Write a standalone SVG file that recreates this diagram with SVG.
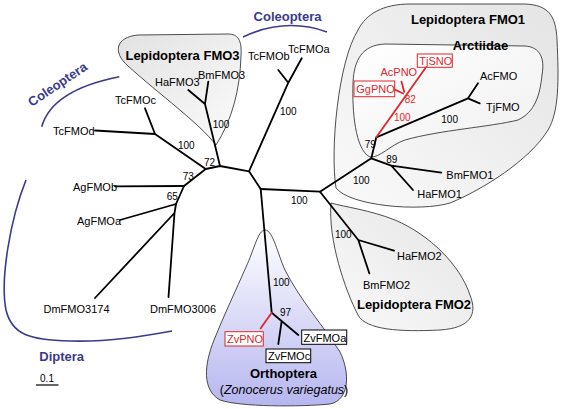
<svg xmlns="http://www.w3.org/2000/svg" width="563" height="409" viewBox="0 0 563 409">
<defs>
<linearGradient id="gGray" x1="0" y1="0" x2="1" y2="1">
<stop offset="0" stop-color="#e2e2e2"/><stop offset="1" stop-color="#fbfbfb"/>
</linearGradient>
<linearGradient id="gGray2" x1="0" y1="1" x2="1" y2="0">
<stop offset="0" stop-color="#fafafa"/><stop offset="1" stop-color="#e4e4e4"/>
</linearGradient>
<linearGradient id="gInner" x1="0" y1="0" x2="1" y2="1">
<stop offset="0" stop-color="#ffffff"/><stop offset="1" stop-color="#f0f0f0"/>
</linearGradient>
<linearGradient id="gBlue" x1="0" y1="0" x2="0" y2="1">
<stop offset="0" stop-color="#ffffff"/><stop offset="1" stop-color="#b6b6f0"/>
</linearGradient>
<style>
.hull{stroke:#222;stroke-width:0.8}
.br{stroke:#000;stroke-width:1.8;fill:none;stroke-linecap:round;stroke-linejoin:round}
.rb{stroke:#e0262b;stroke-width:1.8;fill:none;stroke-linecap:round}
.arc{stroke:#3a3a8e;stroke-width:1.6;fill:none}
text{font-family:"Liberation Sans",Arial,sans-serif}
.lf{font-size:11px;fill:#000}
.rl{font-size:11px;fill:#e0262b}
.bs{font-size:10px;fill:#000}
.bsr{font-size:10px;fill:#e0262b}
.cl{font-size:13px;font-weight:bold;fill:#000;text-anchor:middle}
.tx{font-size:13px;font-weight:bold;fill:#3a3a8e;text-anchor:middle}
.rbox{fill:#fff;stroke:#e0262b;stroke-width:1}
.kbox{fill:#fff;stroke:#000;stroke-width:1}
</style>
</defs>

<g id="clade-lepidoptera-fmo1">
<path class="hull" fill="url(#gGray2)" d="M336,188 C330,150 338,62 358,30 C366,14 383,4 410,4 L525,4 C548,5 556,15 557,40 C559,80 559,112 548,130 C530,160 482,190 450,203 C420,212 350,206 336,188 Z"/>
<text class="cl" x="468" y="24">Lepidoptera FMO1</text>
</g>
<g id="clade-arctiidae">
<path class="hull" fill="url(#gInner)" d="M370,157 C355,150 352,110 353,83 C354,60 362,45 385,44 L525,46 C540,47 545,58 542,75 C540,95 535,112 518,120 C490,127 440,130 405,140 C390,145 380,158 370,157 Z"/>
<text class="cl" x="480.5" y="50">Arctiidae</text>
</g>
<g id="clade-lepidoptera-fmo3">
<path class="hull" fill="url(#gGray)" d="M216,145 C198,122 160,95 128,66 C112,52 116,37 138,35 L228,34 C238,34 242,40 241,56 C240,90 232,120 216,145 Z"/>
<text class="cl" x="182.5" y="60">Lepidoptera FMO3</text>
</g>
<g id="clade-lepidoptera-fmo2">
<path class="hull" fill="url(#gGray2)" d="M331,203 C328,240 345,290 358,315 C366,330 400,332 440,330 C470,328 478,315 470,295 C460,265 430,235 395,220 C370,210 345,207 331,203 Z"/>
<text class="cl" x="414" y="309">Lepidoptera FMO2</text>
</g>
<g id="clade-orthoptera">
<path class="hull" fill="url(#gBlue)" d="M265,230 C258,230 254,250 246,267 C236,290 224,315 214,340 C204,365 202,390 220,400 C240,407 300,407 330,404 C350,400 350,372 340,352 C325,328 300,300 285,270 C278,255 273,230 265,230 Z"/>
<text class="cl" x="283.5" y="378">Orthoptera</text>
<text x="284" y="394" text-anchor="middle" font-size="12.5px" fill="#000">(<tspan font-style="italic">Zonocerus variegatus</tspan>)</text>
</g>

<g id="connectors">
<path class="br" d="M205.7,169 L220,166 L249,171.3 L260.7,189 M205.7,169 L184,186 L176,204"/>
<path class="br" d="M220,166 L205,104 M205,104 L188.3,90 M205,104 L208.3,81.7"/>
<path class="br" d="M205.7,169 L155,134 M155,134 L145,108.3 M155,134 L95,130.5"/>
<path class="br" d="M184,186 L115,186.3"/>
<path class="br" d="M176,204 L120,220 M176,204 L174.5,213 M174.5,213 L95,298 M174.5,213 L168.5,297"/>
<path class="br" d="M249,171.3 L288.3,82.7 M288.3,82.7 L278.3,70 M288.3,82.7 L301.7,58.3"/>
<path class="br" d="M260.7,189 L320,191.7 L371.3,158.3 L376.3,137.3 M376.3,137.3 L468,98.3 M468,98.3 L478,83.3 M468,98.3 L479.7,103.3"/>
<path class="br" d="M371.3,158.3 L391.3,165.7 M391.3,165.7 L441.3,172.7 M391.3,165.7 L413,190"/>
<path class="br" d="M320,191.7 L358.3,240 M358.3,240 L394,250.7 M358.3,240 L369.3,273.3"/>
<path class="br" d="M260.7,189 L271.7,312.7 L298.3,335 M281.7,321 L278.3,344"/>
<path class="rb" d="M376.3,137.3 L426,67.3 M403,93.5 L394.7,89.5 M404.2,91.8 L401.5,81.7 M271.7,312.7 L260.7,328.3"/>
<path class="arc" d="M243,37 Q285,17 327,32"/>
<path class="arc" d="M41.7,126.7 Q52,90 119.3,76.7"/>
<path class="arc" d="M26,180 C10,220 0,280 6,310 C12,335 30,340 70,341 C110,342 145,336 172,331"/>
<path stroke="#000" stroke-width="1.2" d="M36,385 L58.5,385"/>
</g>

<g id="leaf-TcFMOd"><text class="lf" x="53" y="134.5">TcFMOd</text></g>
<g id="leaf-TcFMOc"><text class="lf" x="115" y="104">TcFMOc</text></g>
<g id="leaf-HaFMO3"><text class="lf" x="155" y="85.5">HaFMO3</text></g>
<g id="leaf-BmFMO3"><text class="lf" x="198" y="79">BmFMO3</text></g>
<g id="leaf-TcFMOb"><text class="lf" x="248" y="60">TcFMOb</text></g>
<g id="leaf-TcFMOa"><text class="lf" x="288" y="53">TcFMOa</text></g>
<g id="leaf-AgFMOb"><text class="lf" x="73" y="190.5">AgFMOb</text></g>
<g id="leaf-AgFMOa"><text class="lf" x="77" y="224.5">AgFMOa</text></g>
<g id="leaf-DmFMO3174"><text class="lf" x="43.5" y="313">DmFMO3174</text></g>
<g id="leaf-DmFMO3006"><text class="lf" x="150" y="313">DmFMO3006</text></g>
<g id="leaf-HaFMO2"><text class="lf" x="397" y="260">HaFMO2</text></g>
<g id="leaf-BmFMO2"><text class="lf" x="363" y="289">BmFMO2</text></g>
<g id="leaf-BmFMO1"><text class="lf" x="446.3" y="179">BmFMO1</text></g>
<g id="leaf-HaFMO1"><text class="lf" x="417.3" y="198">HaFMO1</text></g>
<g id="leaf-AcFMO"><text class="lf" x="480" y="80">AcFMO</text></g>
<g id="leaf-TjFMO"><text class="lf" x="486" y="111">TjFMO</text></g>
<g id="leaf-AcPNO"><text class="rl" x="380.5" y="76">AcPNO</text></g>
<g id="leaf-GgPNO"><rect class="rbox" x="354" y="81" width="40.7" height="15.7"/><text class="rl" x="356.3" y="93">GgPNO</text></g>
<g id="leaf-TjSNO"><rect class="rbox" x="417.3" y="54" width="35" height="13.3"/><text class="rl" x="419.3" y="65">TjSNO</text></g>
<g id="leaf-ZvPNO"><rect class="rbox" x="225" y="331.7" width="38.3" height="14.3"/><text class="rl" x="227" y="343">ZvPNO</text></g>
<g id="leaf-ZvFMOa"><rect class="kbox" x="301.7" y="330" width="45" height="14.3"/><text class="lf" x="303.5" y="341.5">ZvFMOa</text></g>
<g id="leaf-ZvFMOc"><rect class="kbox" x="266" y="349" width="44.7" height="13.7"/><text class="lf" x="268" y="360">ZvFMOc</text></g>

<g id="support-values">
<text class="bs" x="280" y="115">100</text>
<text class="bs" x="212.7" y="127.5">100</text>
<text class="bs" x="178" y="149">100</text>
<text class="bs" x="204" y="166">72</text>
<text class="bs" x="182.7" y="179.5">73</text>
<text class="bs" x="166.7" y="200">65</text>
<text class="bs" x="291" y="203.5">100</text>
<text class="bs" x="353" y="183.5">100</text>
<text class="bs" x="364.7" y="147.5">79</text>
<text class="bs" x="386.3" y="163">89</text>
<text class="bs" x="441.3" y="122.5">100</text>
<text class="bsr" x="394" y="121">100</text>
<text class="bsr" x="404.7" y="102.5">82</text>
<text class="bs" x="335" y="237.5">100</text>
<text class="bs" x="273" y="286">100</text>
<text class="bs" x="280" y="316">97</text>
</g>

<g id="group-coleoptera-top"><text class="tx" x="287.5" y="21">Coleoptera</text></g>
<g id="group-coleoptera-left"><text class="tx" transform="translate(60,88) rotate(-34)" x="0" y="0">Coleoptera</text></g>
<g id="group-diptera"><text class="tx" x="61.7" y="361">Diptera</text></g>
<g id="scale"><text x="47" y="382" text-anchor="middle" font-size="10px" fill="#000">0.1</text></g>
</svg>
